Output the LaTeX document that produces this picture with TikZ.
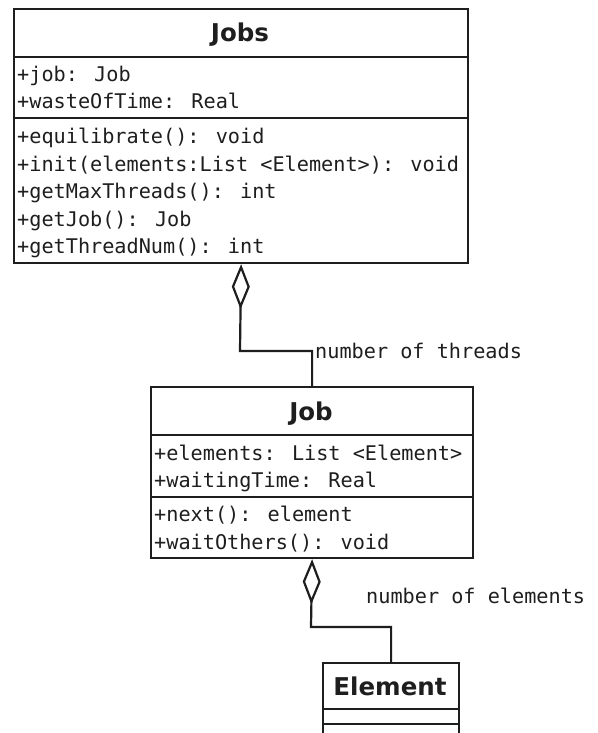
\documentclass[tikz,border=0pt]{standalone}
\usepackage{fontspec}
\setmainfont{DejaVu Sans}
\newfontfamily\monof{DejaVu Sans Mono}
\newfontfamily\boldf{DejaVu Sans}[BoldFont={DejaVu Sans Bold}]
\usetikzlibrary{arrows.meta}
\definecolor{ink}{HTML}{1E1E1E}
\tikzset{
  comp/.style={draw=ink, line width=2.2pt, rectangle, inner sep=0pt, anchor=north west},
  member/.style={anchor=base west, inner sep=0pt, text=ink, font=\monof\fontsize{20.2}{24}\selectfont},
  ctitle/.style={anchor=base, inner sep=0pt, text=ink, font=\boldf\bfseries\fontsize{24.5}{28}\selectfont},
  lbl/.style={anchor=base west, inner sep=0pt, text=ink, font=\monof\fontsize{20.2}{24}\selectfont},
  agg/.style={draw=ink, line width=2.2pt, -{Diamond[open, length=45pt, width=18pt, line width=2.2pt]}},
}
\begin{document}
\begin{tikzpicture}[x=1pt, y=-1pt]
\useasboundingbox (0,0) rectangle (597,733);
\fill[white] (0,0) rectangle (597,733);
\clip (0,0) rectangle (597,733);

% Jobs class
\node[comp, minimum width=454pt, minimum height=48pt] (jobsT) at (13,8) {};
\node[comp, minimum width=454pt, minimum height=61pt] (jobsA) at (13,56) {};
\node[comp, minimum width=454pt, minimum height=145pt] (jobsM) at (13,117) {};
\node[ctitle] (jobsN) at (240,42) {Jobs};
\node[member] (ja1) at (17,82) {+job: Job};
\node[member] (ja2) at (17,109) {+wasteOfTime: Real};
\node[member] (jm1) at (17,143.5) {+equilibrate(): void};
\node[member] (jm2) at (17,171) {+init(elements:List <Element>): void};
\node[member] (jm3) at (17,198.5) {+getMaxThreads(): int};
\node[member] (jm4) at (17,226) {+getJob(): Job};
\node[member] (jm5) at (17,253.5) {+getThreadNum(): int};

% Job class
\node[comp, minimum width=322pt, minimum height=48pt] (jobT) at (150,386) {};
\node[comp, minimum width=322pt, minimum height=62pt] (jobA) at (150,434) {};
\node[comp, minimum width=322pt, minimum height=61pt] (jobM) at (150,496) {};
\node[ctitle] (jobN) at (311,420.5) {Job};
\node[member] (jba1) at (154,460) {+elements: List <Element>};
\node[member] (jba2) at (154,487.5) {+waitingTime: Real};
\node[member] (jbm1) at (154,521.5) {+next(): element};
\node[member] (jbm2) at (154,549) {+waitOthers(): void};

% Element class
\node[comp, minimum width=136pt, minimum height=46pt] (elT) at (322,662) {};
\node[comp, minimum width=136pt, minimum height=15pt] (elA) at (322,708) {};
\node[comp, minimum width=136pt, minimum height=50pt] (elM) at (322,723) {};
\node[ctitle] (elN) at (390,695) {Element};

% connectors
\coordinate (b1) at (240,351);
\draw[agg] (jobT.north) |- (b1) -- (jobsM.south);
\node[lbl] (l1) at (315,358) {number of threads};

\coordinate (b2) at (311,627);
\draw[agg] (elT.north) |- (b2) -- (jobM.south);
\node[lbl] (l2) at (366,603) {number of elements};
\end{tikzpicture}
\end{document}
